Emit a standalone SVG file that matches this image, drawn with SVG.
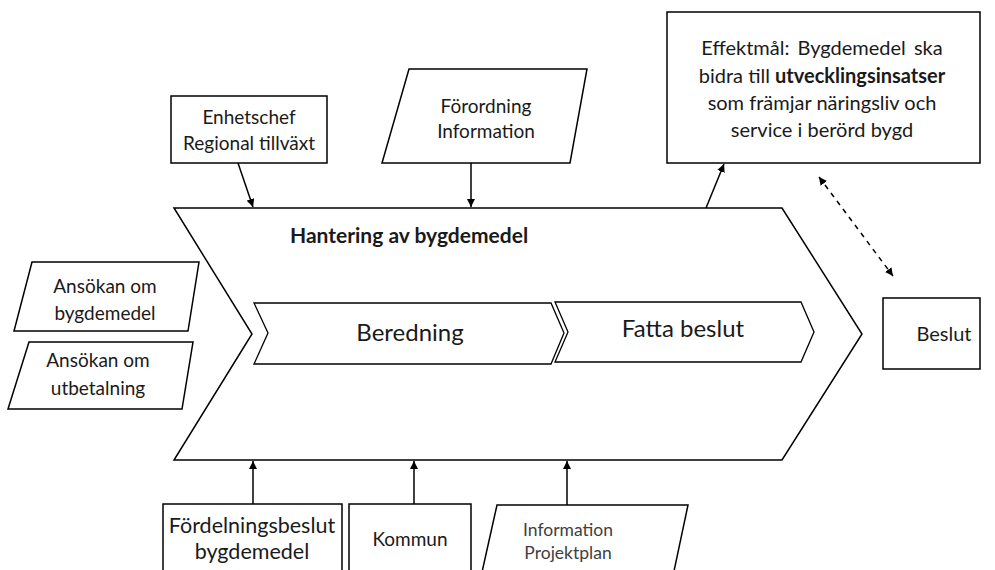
<svg xmlns="http://www.w3.org/2000/svg" width="995" height="570" viewBox="0 0 995 570">
  <style>
    .shape { fill: #ffffff; stroke: #000000; stroke-width: 1.5; }
    .inner { fill: #ffffff; stroke: #000000; stroke-width: 1.3; }
    .lbl { font-family: Lato, "Liberation Sans", sans-serif; font-size: 19px; fill: #1a1a1a; text-anchor: middle; }
    .big { font-size: 24px; }
    .goal { font-size: 20px; }
    .wide { font-size: 21.5px; }
    .bold { font-weight: bold; }
    .title { font-size: 21px; font-weight: bold; text-anchor: start; }
    .soft { fill: #404040; font-size: 17.5px; }
    .conn { stroke: #000000; stroke-width: 1.5; fill: none; }
    .dash { stroke-dasharray: 5 5; }
  </style>
  <defs>
    <marker id="arrow" viewBox="0 0 10 10" refX="10" refY="5" markerWidth="8" markerHeight="8" orient="auto-start-reverse" markerUnits="userSpaceOnUse">
      <path d="M0,0 L10,5 L0,10 Z" fill="#000000"/>
    </marker>
  </defs>

  <rect width="995" height="570" fill="#ffffff"/>

  <!-- main process chevron -->
  <g id="process">
    <polygon class="shape" points="174,208 782,208 862,334 782,460 174,460 252,334"/>
    <text class="lbl title" x="290" y="243">Hantering av bygdemedel</text>
  </g>

  <g id="beredning">
    <polygon class="inner" points="254,303 551,303 564,333 551,364 254,364 268,333"/>
    <text class="lbl big" x="410" y="341">Beredning</text>
  </g>

  <g id="fatta-beslut">
    <polygon class="inner" points="555,302 801,302 814,332 801,362 555,362 568,332"/>
    <text class="lbl big" x="683" y="337">Fatta beslut</text>
  </g>

  <!-- inputs on the left -->
  <g id="ansokan-bygdemedel">
    <polygon class="shape" points="32,262 199,262 188,331 14,331"/>
    <text class="lbl" x="105" y="293">Ansökan om</text>
    <text class="lbl" x="105" y="320">bygdemedel</text>
  </g>

  <g id="ansokan-utbetalning">
    <polygon class="shape" points="29,342 193,342 182,409 8,409"/>
    <text class="lbl" x="98" y="367">Ansökan om</text>
    <text class="lbl" x="98" y="395">utbetalning</text>
  </g>

  <!-- controls above -->
  <g id="enhetschef">
    <rect class="shape" x="171" y="96" width="156" height="67"/>
    <text class="lbl" x="249" y="124">Enhetschef</text>
    <text class="lbl" x="249" y="150">Regional tillväxt</text>
  </g>

  <g id="forordning">
    <polygon class="shape" points="409,69 587,69 570,163 382,163"/>
    <text class="lbl" x="486" y="113">Förordning</text>
    <text class="lbl" x="486" y="138">Information</text>
  </g>

  <!-- goal -->
  <g id="effektmal">
    <rect class="shape" x="667" y="12" width="313" height="151"/>
    <text class="lbl goal" x="822" y="55" word-spacing="3">Effektmål: Bygdemedel ska</text>
    <text class="lbl goal" x="822" y="83">bidra till <tspan class="bold">utvecklingsinsatser</tspan></text>
    <text class="lbl goal" x="822" y="110">som främjar näringsliv och</text>
    <text class="lbl goal" x="822" y="137">service i berörd bygd</text>
  </g>

  <!-- output -->
  <g id="beslut">
    <rect class="shape" x="883" y="298" width="97" height="71"/>
    <text class="lbl goal" x="944" y="341">Beslut</text>
  </g>

  <!-- resources below -->
  <g id="fordelningsbeslut">
    <rect class="shape" x="163" y="504" width="179" height="80"/>
    <text class="lbl wide" x="252" y="533">Fördelningsbeslut</text>
    <text class="lbl wide" x="252" y="559">bygdemedel</text>
  </g>

  <g id="kommun">
    <rect class="shape" x="349" y="504" width="122" height="80"/>
    <text class="lbl" x="410" y="546">Kommun</text>
  </g>

  <g id="information-projektplan">
    <polygon class="shape" points="497,505 688,505 670,590 478,590"/>
    <text class="lbl soft" x="568" y="536">Information</text>
    <text class="lbl soft" x="568" y="559">Projektplan</text>
  </g>

  <!-- connectors -->
  <g id="connectors">
    <line class="conn" x1="238" y1="163" x2="253" y2="207" marker-end="url(#arrow)"/>
    <line class="conn" x1="471" y1="163" x2="471" y2="207" marker-end="url(#arrow)"/>
    <line class="conn" x1="706" y1="208" x2="724" y2="164" marker-end="url(#arrow)"/>
    <line class="conn dash" x1="819" y1="177" x2="893" y2="276" marker-start="url(#arrow)" marker-end="url(#arrow)"/>
    <line class="conn" x1="253" y1="504" x2="253" y2="461" marker-end="url(#arrow)"/>
    <line class="conn" x1="414" y1="504" x2="414" y2="461" marker-end="url(#arrow)"/>
    <line class="conn" x1="567" y1="505" x2="567" y2="461" marker-end="url(#arrow)"/>
  </g>
</svg>
